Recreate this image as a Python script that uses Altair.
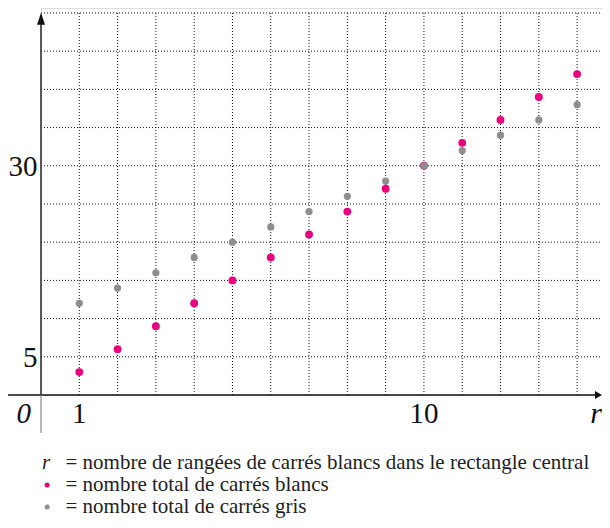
import altair as alt
import pandas as pd

# ---- data ----
r_values = list(range(1, 15))
white_totals = [3, 6, 9, 12, 15, 18, 21, 24, 27, 30, 33, 36, 39, 42]
gray_totals = [12, 14, 16, 18, 20, 22, 24, 26, 28, 30, 32, 34, 36, 38]

x_tick_values = [1, 10]
x_tick_labels = ["1", "10"]
y_tick_values = [5, 30]
y_tick_labels = ["5", "30"]

grid_x = list(range(1, 15))
grid_y = [5, 10, 15, 20, 25, 30, 35, 40, 45, 50]

legend_texts = [
    "= nombre de rangées de carrés blancs dans le rectangle central",
    "= nombre total de carrés blancs",
    "= nombre total de carrés gris",
]

PINK = "#e8007f"
GRAY = "#8e8e8e"
SERIF = "'Liberation Serif', 'Times New Roman', Times, serif"

XMIN, XMAX = 0, 14.65
YMIN, YMAX = 0, 50.65
W, H = 561, 387

xs = alt.Scale(domain=[XMIN, XMAX], nice=False, zero=False)
ys = alt.Scale(domain=[YMIN, YMAX], nice=False, zero=False)


def X(field="x"):
    return alt.X(f"{field}:Q", scale=xs, axis=None)


def Y(field="y"):
    return alt.Y(f"{field}:Q", scale=ys, axis=None)


# grid
hgrid = pd.DataFrame({"y": grid_y, "x": XMIN, "x2": XMAX})
vgrid = pd.DataFrame({"x": grid_x, "y": YMIN, "y2": max(grid_y)})

hg = alt.Chart(hgrid).mark_rule(color="#111", strokeWidth=1, strokeDash=[1, 2]).encode(
    x=X(), x2="x2:Q", y=Y())
vg = alt.Chart(vgrid).mark_rule(color="#111", strokeWidth=1, strokeDash=[1, 2]).encode(
    x=X(), y=Y(), y2="y2:Q")

# axes lines
xaxis = alt.Chart(pd.DataFrame({"x": [-0.86], "x2": [14.5], "y": [0]})).mark_rule(
    color="#111", strokeWidth=1.3).encode(x=X(), x2="x2:Q", y=Y())
yaxis_up = alt.Chart(pd.DataFrame({"x": [0], "y": [0], "y2": [49.0]})).mark_rule(
    color="#333", strokeWidth=1.6).encode(x=X(), y=Y(), y2="y2:Q")
yaxis_down = alt.Chart(pd.DataFrame({"x": [0], "y": [-4.97], "y2": [0]})).mark_rule(
    color="#888", strokeWidth=1.2).encode(x=X(), y=Y(), y2="y2:Q")

arrow_up = alt.Chart(pd.DataFrame({"x": [0], "y": [50.04]})).mark_point(
    shape="M0,0L1,3L-1,3Z", size=64, filled=True, color="#111", opacity=1).encode(x=X(), y=Y())
arrow_right = alt.Chart(pd.DataFrame({"x": [XMAX], "y": [0]})).mark_point(
    shape="M0,0L-1.75,-1L-1.75,1Z", size=64, filled=True, color="#111", opacity=1).encode(x=X(), y=Y())

# points
pts = pd.DataFrame({"r": r_values, "white": white_totals, "gray": gray_totals})
pink_pts = alt.Chart(pts).mark_circle(color=PINK, size=62, opacity=1).encode(
    x=X("r"), y=Y("white"))
gray_pts = alt.Chart(pts).mark_circle(color=GRAY, size=52, opacity=1).encode(
    x=X("r"), y=Y("gray"))

# tick labels
xlab = alt.Chart(pd.DataFrame({"x": x_tick_values, "t": x_tick_labels, "y": -3.66})).mark_text(
    font=SERIF, fontSize=29, color="#111", align="center", baseline="alphabetic").encode(
    x=X(), y=Y(), text="t:N")
ylab = alt.Chart(pd.DataFrame({"y": y_tick_values, "t": y_tick_labels, "x": -0.09})).mark_text(
    font=SERIF, fontSize=29, color="#111", align="right", baseline="alphabetic", dy=10).encode(
    x=X(), y=Y(), text="t:N")
zero_lab = alt.Chart(pd.DataFrame({"x": [-0.45], "y": [-3.66], "t": ["0"]})).mark_text(
    font=SERIF, fontSize=29, fontStyle="italic", color="#111", align="center",
    baseline="alphabetic").encode(x=X(), y=Y(), text="t:N")
r_lab = alt.Chart(pd.DataFrame({"x": [XMAX], "y": [-3.66], "t": ["r"]})).mark_text(
    font=SERIF, fontSize=30, fontStyle="italic", color="#111", align="right",
    baseline="alphabetic").encode(x=X(), y=Y(), text="t:N")

# legend (text + markers)
leg = pd.DataFrame({"x": [0.64, 0.64, 0.64], "y": [-9.68, -12.56, -15.44], "t": legend_texts})
leg_text = alt.Chart(leg).mark_text(
    font=SERIF, fontSize=21, color="#222", align="left", baseline="alphabetic").encode(
    x=X(), y=Y(), text="t:N")
leg_r = alt.Chart(pd.DataFrame({"x": [0.13], "y": [-9.68], "t": ["r"]})).mark_text(
    font=SERIF, fontSize=21, fontStyle="italic", color="#222", align="center",
    baseline="alphabetic").encode(x=X(), y=Y(), text="t:N")
leg_dots = pd.DataFrame({"x": [0.16, 0.16], "y": [-11.78, -14.66], "c": ["blancs", "gris"]})
leg_pts = alt.Chart(leg_dots).mark_circle(size=26, opacity=1).encode(
    x=X(), y=Y(),
    color=alt.Color("c:N", scale=alt.Scale(domain=["blancs", "gris"], range=[PINK, GRAY]), legend=None))

chart = alt.layer(
    hg, vg, xaxis, yaxis_up, yaxis_down, arrow_up, arrow_right,
    pink_pts, gray_pts, xlab, ylab, zero_lab, r_lab, leg_text, leg_r, leg_pts,
).properties(
    width=W, height=H,
    autosize=alt.AutoSizeParams(type="none"),
    padding={"left": 33, "top": 0, "right": 0, "bottom": 125},
).configure_view(stroke=None).configure(background="white")

chart.save("out.html", embed_options={"renderer": "svg", "actions": False})
